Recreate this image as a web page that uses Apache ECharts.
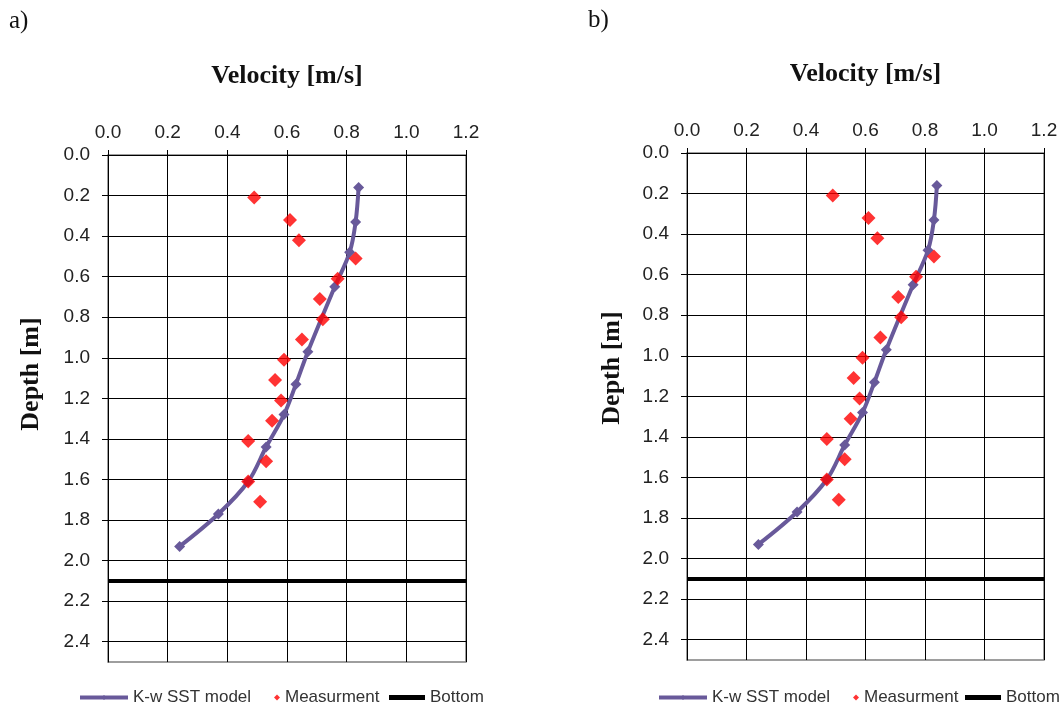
<!DOCTYPE html>
<html>
<head>
<meta charset="utf-8">
<script src="https://cdn.jsdelivr.net/npm/echarts@6/dist/echarts.min.js"></script>
<style>
  html, body { margin: 0; padding: 0; background: #fff; }
  #chart { width: 1064px; height: 707px; }
</style>
</head>
<body>
<div id="chart"></div>
<script>
// K-w SST model profile (velocity vs depth)
const modelVelocity = [0.84, 0.83, 0.81, 0.76, 0.67, 0.63, 0.59, 0.53, 0.47, 0.37, 0.24];
const modelDepth = [0.16, 0.33, 0.48, 0.65, 0.97, 1.13, 1.28, 1.44, 1.61, 1.77, 1.93];

// measured points
const measVelocity = [0.49, 0.61, 0.64, 0.83, 0.77, 0.71, 0.72, 0.65, 0.59, 0.56, 0.58, 0.55, 0.47, 0.53, 0.47, 0.51];
const measDepth = [0.21, 0.32, 0.42, 0.51, 0.61, 0.71, 0.81, 0.91, 1.01, 1.11, 1.21, 1.31, 1.41, 1.51, 1.61, 1.71];

// channel bottom
const bottomDepth = 2.1;
const bottomVelocity = [0, 1.2];

// axis ticks
const velocityTicks = [0, 0.2, 0.4, 0.6, 0.8, 1.0, 1.2];
const depthTicks = [0, 0.2, 0.4, 0.6, 0.8, 1.0, 1.2, 1.4, 1.6, 1.8, 2.0, 2.2, 2.4];
const panelLabels = ['a)', 'b)'];

const modelData = modelVelocity.map((v, i) => [v, modelDepth[i]]);
const measData = measVelocity.map((v, i) => [v, measDepth[i]]);
const bottomData = bottomVelocity.map(v => [v, bottomDepth]);

const purple = '#68599a';
const labelFont = 'Liberation Sans, Arial, sans-serif';
const serifFont = 'Liberation Serif, Times New Roman, serif';

const grids = [
  { left: 108, top: 155, width: 358, height: 507 },
  { left: 687, top: 153, width: 357, height: 507 }
];

function xAxisFor(i) {
  return {
    type: 'value', gridIndex: i, position: 'top',
    min: 0, max: 1.2, interval: 0.2,
    name: 'Velocity [m/s]', nameLocation: 'middle', nameGap: 66,
    nameTextStyle: { fontFamily: serifFont, fontWeight: 'bold', fontSize: 26, color: '#111' },
    axisLine: { show: true, lineStyle: { color: '#000', width: 1 } },
    axisTick: { show: true, length: 5, lineStyle: { color: '#000' } },
    axisLabel: {
      margin: 13, fontSize: 19, fontFamily: labelFont, color: '#222',
      formatter: v => v.toFixed(1)
    },
    splitLine: { show: true, lineStyle: { color: '#000', width: 1 } }
  };
}

function yAxisFor(i) {
  return {
    type: 'value', gridIndex: i, inverse: true,
    min: 0, max: 2.5, interval: 0.2,
    axisLine: { show: true, lineStyle: { color: '#000', width: 1 } },
    axisTick: { show: true, length: 6, customValues: depthTicks, lineStyle: { color: '#000' } },
    axisLabel: {
      margin: 18, fontSize: 19, fontFamily: labelFont, color: '#222',
      customValues: depthTicks,
      formatter: v => v.toFixed(1)
    },
    splitLine: { show: true, lineStyle: { color: '#000', width: 1 } }
  };
}

function seriesFor(i) {
  return [
    {
      name: 'Bottom', type: 'line', xAxisIndex: i, yAxisIndex: i,
      data: bottomData, symbol: 'none',
      lineStyle: { color: '#000', width: 4 }, itemStyle: { color: '#000' },
      z: 3, silent: true
    },
    {
      name: 'K-w SST model', type: 'line', xAxisIndex: i, yAxisIndex: i,
      data: modelData, smooth: 0.35,
      symbol: 'diamond', symbolSize: 11,
      lineStyle: { color: purple, width: 4 }, itemStyle: { color: purple },
      z: 4
    },
    {
      name: 'Measurment', type: 'scatter', xAxisIndex: i, yAxisIndex: i,
      data: measData, symbol: 'diamond', symbolSize: 14,
      itemStyle: { color: '#ff0000' },
      z: 5
    }
  ];
}

const legendText = { fontFamily: labelFont, fontSize: 17, color: '#333' };
function legendsFor(x0, measX, bottomX) {
  return [
    { data: ['K-w SST model'], left: x0, top: 684, itemWidth: 48, itemHeight: 6,
      lineStyle: { width: 4 }, textStyle: legendText, selectedMode: false },
    { data: ['Measurment'], left: measX, top: 684, itemWidth: 6, itemHeight: 6, textStyle: legendText, selectedMode: false },
    { data: [{ name: 'Bottom', icon: 'rect' }], left: bottomX, top: 684, itemWidth: 36, itemHeight: 5,
      itemStyle: { color: '#000' }, textStyle: legendText, selectedMode: false }
  ];
}

const chart = echarts.init(document.getElementById('chart'));
chart.setOption({
  animation: false,
  backgroundColor: '#fff',
  grid: grids.map(g => Object.assign({ show: true, borderColor: '#7f7f7f', borderWidth: 1.5, backgroundColor: 'transparent' }, g)),
  xAxis: [xAxisFor(0), xAxisFor(1)],
  yAxis: [yAxisFor(0), yAxisFor(1)],
  series: seriesFor(0).concat(seriesFor(1)),
  legend: legendsFor(73, 269, 384).concat(legendsFor(652, 848, 960)),
  graphic: [
    { type: 'text', left: 9, top: 9, style: { text: panelLabels[0], font: '25px ' + serifFont, fill: '#111' } },
    { type: 'text', left: 588, top: 8, style: { text: panelLabels[1], font: '25px ' + serifFont, fill: '#111' } },
    { type: 'text', x: 31, y: 374, rotation: Math.PI / 2,
      style: { text: 'Depth [m]', font: 'bold 26px ' + serifFont, fill: '#111', align: 'center', verticalAlign: 'middle' } },
    { type: 'text', x: 612, y: 368, rotation: Math.PI / 2,
      style: { text: 'Depth [m]', font: 'bold 26px ' + serifFont, fill: '#111', align: 'center', verticalAlign: 'middle' } }
  ]
});
</script>
</body>
</html>
